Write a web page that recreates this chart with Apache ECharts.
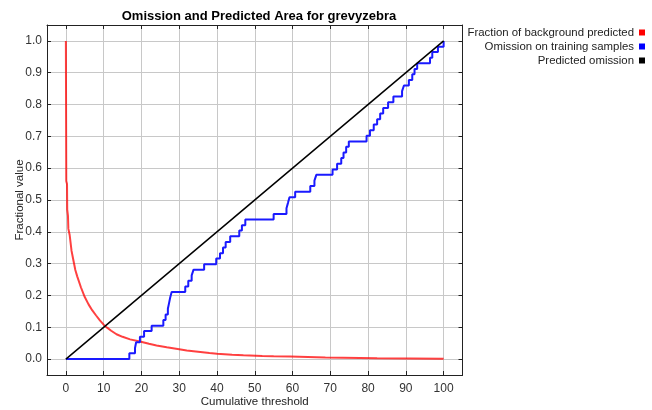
<!DOCTYPE html>
<html>
<head>
<meta charset="utf-8">
<script src="https://cdn.jsdelivr.net/npm/echarts@6/dist/echarts.min.js"></script>
<style>
    html, body { margin: 0; padding: 0; background: #fff; }
    #chart { width: 652px; height: 410px; }
</style>
</head>
<body>
<div id="chart"></div>
<script>
    // 背景预测比例 (red)
    var bgX = [0, 0.1, 0.3, 0.35, 0.55, 0.65, 1.0, 1.5, 2.0, 2.5, 3.0, 4.0, 5.0, 6.0, 7.0, 8.0, 9.0, 10.0, 11, 12, 13.4, 15, 17, 19.6, 22, 24, 26.7, 30, 32, 35, 38, 40, 44, 47, 52, 55, 59.4, 59.5, 68.7, 69, 82.4, 82.6, 100]
    var bgY = [1.0, 0.56, 0.55, 0.47, 0.45, 0.41, 0.39, 0.34, 0.31, 0.28, 0.26, 0.225, 0.195, 0.172, 0.153, 0.137, 0.122, 0.108, 0.098, 0.089, 0.078, 0.07, 0.062, 0.055, 0.048, 0.043, 0.037, 0.031, 0.027, 0.023, 0.019, 0.017, 0.014, 0.012, 0.010, 0.009, 0.008, 0.006, 0.005, 0.004, 0.003, 0.001, 0.001]

    // 训练样本遗漏 (blue, step)
    var omX = [0, 16.8, 18.3, 18.6, 19.6, 20.7, 22.7, 25.8, 26.4, 27.0, 27.3, 27.6, 28.0, 31.6, 32.4, 33.3, 33.8, 36.6, 39.8, 40.8, 41.6, 42.3, 43.5, 45.9, 46.6, 47.5, 55.0, 58.4, 58.8, 59.2, 60.7, 64.7, 65.8, 66.3, 70.6, 71.8, 72.9, 73.5, 74.2, 74.9, 79.6, 80.5, 81.5, 82.4, 83.2, 84.0, 85.3, 86.7, 89.0, 89.5, 90.8, 91.7, 92.3, 93.0, 96.4, 97.0, 98.5, 100]
    var omY = [0, .018, .035, .053, .070, .088, .105, .123, .140, .158, .175, .193, .211, .228, .246, .263, .281, .298, .316, .333, .351, .368, .386, .404, .421, .439, .456, .474, .491, .509, .526, .544, .561, .579, .596, .614, .632, .649, .667, .684, .702, .719, .737, .754, .772, .789, .807, .825, .842, .860, .877, .895, .912, .930, .947, .965, .982, 1.0]

    // 预测遗漏 (black)
    var predX = [0, 100]
    var predY = [0, 1]

    var names = ['Fraction of background predicted', 'Omission on training samples', 'Predicted omission']

    function pairs (xs, ys) {
        return xs.map(function (x, i) { return [x, ys[i]] })
    }

    var fontFam = '"Liberation Sans", Arial, sans-serif'

    var legendBase = function (name, top) {
        return {
            data: [name],
            right: 7,
            top: top,
            padding: 0,
            align: 'right',
            icon: 'rect',
            itemWidth: 6,
            itemHeight: 6,
            selectedMode: false,
            textStyle: { fontSize: 11.4, color: '#222', fontFamily: fontFam }
        }
    }

    var myChart = echarts.init(document.getElementById('chart'))

    myChart.setOption({
        animation: false,
        title: {
            text: 'Omission and Predicted Area for grevyzebra',
            left: 254,
            textAlign: 'center',
            top: 5,
            textStyle: { fontSize: 13, fontWeight: 'bold', color: '#000', fontFamily: fontFam }
        },
        legend: [
            legendBase(names[0], 27),
            legendBase(names[1], 41),
            legendBase(names[2], 55)
        ],
        grid: { left: 47, right: 189.5, top: 25, bottom: 35, containLabel: false, outerBoundsMode: 'none' },
        xAxis: [{
            type: 'value',
            min: -5,
            max: 105,
            splitNumber: 11,
            name: 'Cumulative threshold',
            nameLocation: 'middle',
            nameGap: 21,
            nameMoveOverlap: false,
            nameTextStyle: { fontSize: 11.5, color: '#222', fontFamily: fontFam },
            axisLine: { show: true, onZero: false, lineStyle: { color: '#222', width: 1 } },
            axisTick: { show: true, inside: true, length: 4, lineStyle: { color: '#222' } },
            axisLabel: { showMinLabel: false, showMaxLabel: false, margin: 8, fontSize: 12, color: '#333', fontFamily: fontFam },
            splitLine: { show: true, lineStyle: { color: '#c8c8c8', width: 1 } }
        }, {
            type: 'value',
            position: 'top',
            min: -5,
            max: 105,
            splitNumber: 11,
            axisLine: { show: true, onZero: false, lineStyle: { color: '#222', width: 1 } },
            axisTick: { show: true, inside: true, length: 4, lineStyle: { color: '#222' } },
            axisLabel: { show: false },
            splitLine: { show: false }
        }],
        yAxis: [{
            type: 'value',
            min: -0.05,
            max: 1.05,
            splitNumber: 11,
            name: 'Fractional value',
            nameLocation: 'middle',
            nameGap: 21,
            nameMoveOverlap: false,
            nameTextStyle: { fontSize: 11.5, color: '#222', fontFamily: fontFam },
            axisLine: { show: true, onZero: false, lineStyle: { color: '#222', width: 1 } },
            axisTick: { show: true, inside: true, length: 4, lineStyle: { color: '#222' } },
            axisLabel: {
                showMinLabel: false, showMaxLabel: false, margin: 5, fontSize: 12, color: '#333', fontFamily: fontFam,
                formatter: function (v) { return v.toFixed(1) }
            },
            splitLine: { show: true, lineStyle: { color: '#c8c8c8', width: 1 } }
        }, {
            type: 'value',
            position: 'right',
            min: -0.05,
            max: 1.05,
            splitNumber: 11,
            axisLine: { show: true, onZero: false, lineStyle: { color: '#222', width: 1 } },
            axisTick: { show: true, inside: true, length: 4, lineStyle: { color: '#222' } },
            axisLabel: { show: false },
            splitLine: { show: false }
        }],
        series: [
            {
                name: names[0],
                type: 'line',
                showSymbol: false,
                symbol: 'none',
                itemStyle: { color: '#ff0000' },
                lineStyle: { color: 'rgba(255,0,0,0.75)', width: 2 },
                data: pairs(bgX, bgY)
            },
            {
                name: names[1],
                type: 'line',
                step: 'end',
                showSymbol: false,
                symbol: 'none',
                itemStyle: { color: '#0000ff' },
                lineStyle: { color: '#1a1aff', width: 2 },
                data: pairs(omX, omY)
            },
            {
                name: names[2],
                type: 'line',
                showSymbol: false,
                symbol: 'none',
                itemStyle: { color: '#000' },
                lineStyle: { color: '#000', width: 1.5 },
                data: pairs(predX, predY)
            }
        ]
    })
</script>
</body>
</html>
